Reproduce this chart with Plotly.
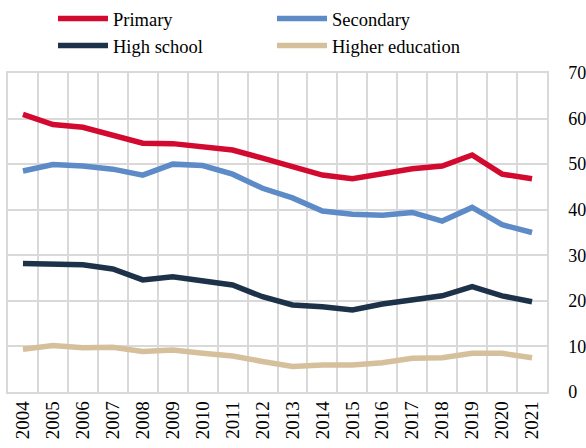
import plotly.graph_objects as go

years = [str(y) for y in range(2004, 2022)]
primary = [60.9, 58.7, 58.1, 56.4, 54.6, 54.5, 53.9, 53.1, 51.3, 49.5, 47.6, 46.8, 48.0, 49.0, 49.6, 52.0, 47.8, 46.8]
secondary = [48.5, 49.9, 49.6, 48.9, 47.6, 50.0, 49.7, 47.8, 44.7, 42.6, 39.7, 39.0, 38.8, 39.4, 37.5, 40.5, 36.7, 35.0]
high_school = [28.2, 28.1, 27.9, 27.0, 24.6, 25.3, 24.4, 23.5, 20.9, 19.1, 18.7, 18.0, 19.3, 20.2, 21.1, 23.1, 21.1, 19.8]
higher_ed = [9.4, 10.2, 9.7, 9.8, 8.9, 9.2, 8.5, 7.9, 6.7, 5.6, 5.9, 5.9, 6.4, 7.4, 7.5, 8.5, 8.5, 7.5]
y_ticks = [0, 10, 20, 30, 40, 50, 60, 70]

series = [
    ("Primary", primary, "#D20A2F"),
    ("Secondary", secondary, "#5D8BC8"),
    ("High school", high_school, "#1D3249"),
    ("Higher education", higher_ed, "#D6C09C"),
]

fig = go.Figure()
for name, vals, color in series:
    fig.add_trace(go.Scatter(x=years, y=vals, name=name, mode="lines",
                             line=dict(color=color, width=5.5)))

W, H = 586, 448
font = "Liberation Serif"
fig.update_layout(
    width=W, height=H,
    margin=dict(l=8, r=39, t=73, b=56, autoexpand=False),
    paper_bgcolor="white", plot_bgcolor="white",
    font=dict(family=font, size=18, color="#000000"),
    showlegend=True,
    legend=dict(orientation="h", xref="container", x=53 / W,
                yref="container", y=1.0, yanchor="top", xanchor="left",
                entrywidth=154, entrywidthmode="pixels",
                itemwidth=50, font=dict(family=font, size=18.5),
                bgcolor="rgba(0,0,0,0)", traceorder="normal"),
    xaxis=dict(type="category", tickson="boundaries", showgrid=True,
               range=[-0.5, len(years) - 0.5],
               gridcolor="#D9D9D9", gridwidth=1.5, tickangle=-90,
               showline=True, linecolor="#D9D9D9", linewidth=1.5, mirror=True,
               ticks="", automargin=False, tickfont=dict(family=font, size=19)),
    yaxis=dict(side="right", range=[0, 70], tickvals=y_ticks, showgrid=True,
               gridcolor="#D9D9D9", gridwidth=1.5, zeroline=False,
               showline=True, linecolor="#D9D9D9", linewidth=1.5, mirror=True,
               ticks="", automargin=False, ticklabelstandoff=16,
               tickfont=dict(family=font, size=18)),
)
fig.write_html("out.html", config={"displayModeBar": False},
               post_script="document.body.style.margin='0px';")
